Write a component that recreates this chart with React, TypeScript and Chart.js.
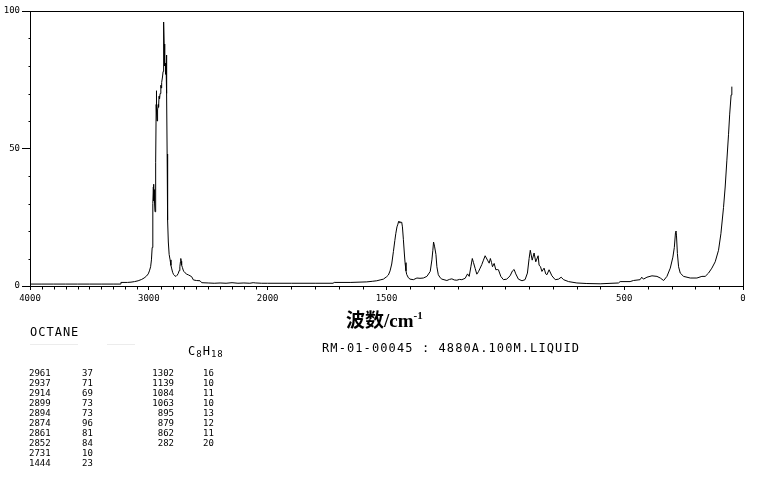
import React, { useEffect, useRef } from "react";
import { Chart, registerables } from "chart.js";

Chart.register(...registerables);

// Raman spectrum of octane (wavenumber cm-1, relative intensity)
const wavenumbers = [
  4000, 3900, 3800, 3700, 3600, 3500, 3400, 3300, 3240, 3235, 3180, 3150, 3120, 3090, 3060, 3040, 3020, 3005,
  2995, 2985, 2978, 2972, 2968, 2965, 2962, 2960, 2958, 2955, 2952, 2948, 2944, 2941, 2938, 2937, 2934, 2931,
  2928, 2925, 2921, 2918, 2914, 2910, 2905, 2899, 2896, 2894, 2890, 2885, 2880, 2877, 2874, 2871, 2868, 2865,
  2861, 2858, 2855, 2852, 2849, 2846, 2842, 2836, 2829, 2821, 2814, 2807, 2800, 2792, 2782, 2771, 2762, 2752,
  2745, 2739, 2734, 2731, 2728, 2724, 2718, 2711, 2704, 2695, 2681, 2665, 2640, 2625, 2600, 2569, 2555, 2500,
  2450, 2400, 2350, 2300, 2250, 2200, 2150, 2122, 2100, 2050, 2000, 1900, 1800, 1725, 1720, 1650, 1583, 1560,
  1541, 1527, 1513, 1499, 1492, 1485, 1478, 1471, 1465, 1461, 1456, 1452, 1449, 1446, 1444, 1440, 1436, 1433,
  1429, 1425, 1422, 1418, 1415, 1408, 1401, 1387, 1372, 1359, 1345, 1330, 1316, 1309, 1305, 1302, 1298, 1292,
  1288, 1282, 1274, 1267, 1246, 1235, 1225, 1215, 1204, 1193, 1183, 1169, 1159, 1152, 1145, 1139, 1134, 1127,
  1120, 1113, 1106, 1099, 1092, 1085, 1075, 1068, 1063, 1058, 1054, 1047, 1040, 1034, 1029, 1019, 1008, 994,
  980, 970, 963, 956, 945, 930, 917, 907, 900, 895, 887, 879, 872, 862, 858, 852, 846, 837, 830, 825, 816, 804,
  790, 776, 765, 755, 734, 699, 657, 601, 524, 517, 475, 461, 433, 426, 419, 404, 383, 362, 348, 334, 320, 306,
  295, 289, 284, 282, 280, 276, 271, 264, 250, 222, 194, 173, 159, 145, 131, 117, 103, 93, 82, 75, 68, 61, 56,
  50, 47,
];

const intensities = [
  0.7, 0.7, 0.7, 0.7, 0.7, 0.7, 0.7, 0.7, 0.7, 1.3, 1.3, 1.4, 1.6, 1.9, 2.4, 2.9, 3.6, 4.4,
  5.5, 7.0, 9.5, 14, 21, 30, 36, 37, 31, 35, 30, 27, 29, 45, 66, 71, 63, 60,
  62, 64, 66, 65, 69, 68, 70, 73, 72, 73, 74, 76, 78, 82, 96, 88, 84, 80,
  81, 77, 80, 84, 70, 48, 24, 16, 11.5, 9.5, 7.5, 6.2, 5.0, 4.2, 3.7, 3.5, 3.9, 4.6,
  5.6, 7.0, 8.8, 10, 9.0, 7.6, 6.8, 5.8, 5.2, 4.8, 4.3, 4.0, 3.4, 2.2, 2.0, 1.9, 1.2, 1.1,
  1.0, 1.1, 1.0, 1.2, 1.0, 1.1, 1.0, 1.2, 1.1, 1.0, 1.0, 1.0, 1.0, 1.0, 1.3, 1.3, 1.5, 1.7,
  1.9, 2.2, 2.5, 3.4, 4.0, 5.5, 8.0, 12.5, 16.5, 19, 21.5, 22.5, 23.5, 23, 23.5, 23, 23.2, 21.5,
  17, 12, 8.5, 5.5, 4.2, 3.0, 2.5, 2.3, 2.9, 2.8, 2.9, 3.5, 5.3, 9.5, 13, 16, 14.5, 11.5,
  7.0, 4.1, 3.0, 2.5, 2.0, 2.4, 2.6, 2.2, 2.1, 2.4, 2.3, 2.8, 4.4, 3.5, 7.0, 10, 8.5, 6.4,
  4.3, 5.2, 6.5, 7.8, 9.4, 11, 9.4, 8.3, 10, 8.5, 7.0, 8.2, 5.9, 6.0, 5.9, 3.5, 2.3, 2.5,
  3.7, 5.5, 6.0, 4.4, 2.5, 1.9, 2.3, 4.7, 10, 13, 9.4, 12, 8.8, 11, 7.6, 7.0, 5.3, 6.5, 4.4, 4.1, 5.9, 3.7,
  2.3, 2.5, 3.2, 2.3, 1.6, 1.1, 0.9, 0.8, 1.1, 1.6, 1.6, 2.0, 2.3, 3.2, 2.5, 3.2, 3.7, 3.5, 2.9, 2.0, 3.5, 6.5,
  10.5, 14, 19.5, 20, 18.5, 11.8, 7.0, 4.7, 3.5, 2.9, 2.9, 3.5, 3.5, 4.7, 6.5, 8.8, 13, 19, 28.5, 36, 45.5, 55, 62.5,
  69.5, 72.5,
];

const xTickLabels = [4000, 3000, 2000, 1500, 500, 0];
const yTickLabels = [0, 50, 100];

const peakTableWavenumbersA = ["2961", "2937", "2914", "2899", "2894", "2874", "2861", "2852", "2731", "1444"];
const peakTableIntensitiesA = ["37", "71", "69", "73", "73", "96", "81", "84", "10", "23"];
const peakTableWavenumbersB = ["1302", "1139", "1084", "1063", "895", "879", "862", "282"];
const peakTableIntensitiesB = ["16", "10", "11", "10", "13", "12", "11", "20"];

// Split wavenumber axis: 4000-2000 compressed by half, 2000-0 full scale
function toU(w: number): number {
  return w >= 2000 ? (4000 - w) / 2 : 1000 + (2000 - w);
}
function fromU(u: number): number {
  return u <= 1000 ? 4000 - 2 * u : 2000 - (u - 1000);
}

const MONO = '"DejaVu Sans Mono", monospace';

const framePlugin = {
  id: "frameAndMinorTicks",
  afterDraw(chart: any) {
    const { ctx, chartArea: a, scales } = chart;
    const al = (v: number) => Math.round(v) + 0.5;
    ctx.save();
    ctx.strokeStyle = "#000";
    ctx.lineWidth = 1;
    ctx.beginPath();
    // top and right frame
    ctx.moveTo(al(a.left), al(a.top));
    ctx.lineTo(al(a.right), al(a.top));
    ctx.lineTo(al(a.right), al(a.bottom));
    // minor x ticks every 100 cm-1
    for (let w = 3900; w >= 100; w -= 100) {
      if (xTickLabels.includes(w)) continue;
      const px = al(scales.x.getPixelForValue(toU(w)));
      ctx.moveTo(px, al(a.bottom));
      ctx.lineTo(px, al(a.bottom) + 3);
    }
    // minor y ticks every 10
    for (let v = 10; v < 100; v += 10) {
      if (yTickLabels.includes(v)) continue;
      const py = al(scales.y.getPixelForValue(v));
      ctx.moveTo(al(a.left) - 2, py);
      ctx.lineTo(al(a.left), py);
    }
    ctx.stroke();
    ctx.restore();
  },
};

export default function App() {
  const canvasRef = useRef<HTMLCanvasElement | null>(null);

  useEffect(() => {
    if (!canvasRef.current) return;
    const points = wavenumbers.map((w, i) => ({ x: toU(w), y: intensities[i] }));
    const chart = new Chart(canvasRef.current, {
      type: "line",
      data: {
        datasets: [
          {
            data: points,
            borderColor: "#000",
            borderWidth: 1,
            pointRadius: 0,
            tension: 0,
            fill: false,
          },
        ],
      },
      options: {
        animation: false,
        responsive: false,
        devicePixelRatio: 1,
        layout: { padding: { left: 0, top: 11, right: 22, bottom: 164 } },
        plugins: { legend: { display: false }, tooltip: { enabled: false } },
        scales: {
          x: {
            type: "linear",
            min: 0,
            max: 3000,
            afterBuildTicks: (scale: any) => {
              scale.ticks = xTickLabels.map((w) => ({ value: toU(w) }));
            },
            afterFit: (scale: any) => {
              scale.height = 30;
            },
            ticks: {
              autoSkip: false,
              maxRotation: 0,
              padding: 3,
              color: "#000",
              font: { family: MONO, size: 9 },
              callback: (value: any) => String(Math.round(fromU(Number(value)))),
            },
            grid: { drawOnChartArea: false, drawTicks: true, tickLength: 4, color: "#000" },
            border: { display: true, color: "#000", width: 1 },
          },
          y: {
            min: 0,
            max: 100,
            afterBuildTicks: (scale: any) => {
              scale.ticks = yTickLabels.map((v) => ({ value: v }));
            },
            afterFit: (scale: any) => {
              scale.width = 30;
            },
            ticks: {
              padding: 2,
              color: "#000",
              font: { family: MONO, size: 9 },
            },
            grid: { drawOnChartArea: false, drawTicks: true, tickLength: 8, color: "#000" },
            border: { display: true, color: "#000", width: 1 },
          },
        },
      },
      plugins: [framePlugin],
    });
    return () => chart.destroy();
  }, []);

  const textBase: React.CSSProperties = {
    position: "absolute",
    fontFamily: MONO,
    color: "#000",
    whiteSpace: "pre",
  };

  return (
    <div style={{ position: "absolute", left: 0, top: 0, width: 765, height: 480, background: "#fff", overflow: "hidden" }}>
      <canvas ref={canvasRef} width={765} height={480} style={{ display: "block", width: 765, height: 480 }} />
      <div
        style={{
          position: "absolute",
          left: 346,
          top: 304,
          fontFamily: '"Liberation Serif", "Noto Sans CJK SC", serif',
          fontWeight: "bold",
          fontSize: 19,
          lineHeight: "22px",
          color: "#000",
          whiteSpace: "nowrap",
        }}
      >
        波数/cm<sup style={{ fontSize: 11, verticalAlign: 8 }}>-1</sup>
      </div>
      <div style={{ ...textBase, left: 30, top: 325, fontSize: 12, lineHeight: "14px", letterSpacing: 1 }}>OCTANE</div>
      <div style={{ position: "absolute", left: 30, top: 344, width: 48, height: 1, background: "#ececec" }} />
      <div style={{ position: "absolute", left: 107, top: 344, width: 28, height: 1, background: "#ececec" }} />
      <div style={{ ...textBase, left: 188, top: 344, fontSize: 12, lineHeight: "14px", letterSpacing: 1 }}>
        C<sub style={{ fontSize: 9, verticalAlign: -2 }}>8</sub>H<sub style={{ fontSize: 9, verticalAlign: -2 }}>18</sub>
      </div>
      <div style={{ ...textBase, left: 322, top: 341, fontSize: 12, lineHeight: "14px", letterSpacing: 1.1 }}>
        RM-01-00045 : 4880A.100M.LIQUID
      </div>
      {peakTableWavenumbersA.map((w, i) => (
        <React.Fragment key={"a" + i}>
          <div style={{ ...textBase, left: 29, top: 368 + i * 10, fontSize: 9, lineHeight: "10px" }}>{w}</div>
          <div style={{ ...textBase, left: 82, top: 368 + i * 10, fontSize: 9, lineHeight: "10px" }}>{peakTableIntensitiesA[i]}</div>
        </React.Fragment>
      ))}
      {peakTableWavenumbersB.map((w, i) => (
        <React.Fragment key={"b" + i}>
          <div style={{ ...textBase, left: 140, width: 34, textAlign: "right", top: 368 + i * 10, fontSize: 9, lineHeight: "10px" }}>{w}</div>
          <div style={{ ...textBase, left: 203, top: 368 + i * 10, fontSize: 9, lineHeight: "10px" }}>{peakTableIntensitiesB[i]}</div>
        </React.Fragment>
      ))}
    </div>
  );
}
